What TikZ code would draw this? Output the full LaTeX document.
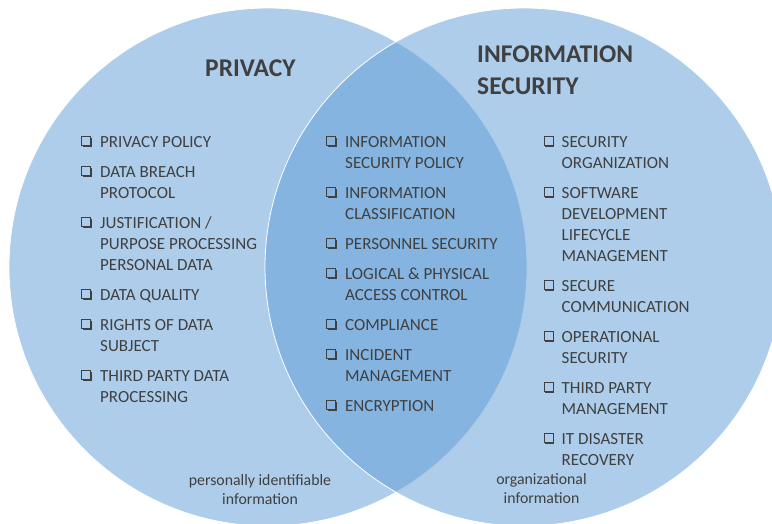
\documentclass[tikz,border=0pt]{standalone}
\usepackage{fontspec}
\setmainfont{Carlito}
\usetikzlibrary{shadows}
\definecolor{vennblue}{HTML}{5B9BD5}
\definecolor{inkgrey}{HTML}{404040}
\definecolor{paleblue}{RGB}{173,205,234}
\definecolor{lensblue}{RGB}{132,180,223}

% stacked lines whose baseline is that of the first line
\newcommand\lstack[1]{\vtop{\let\\\cr\halign{##\hfil\cr#1\crcr}}}
\newcommand\cstack[1]{\vtop{\let\\\cr\halign{\hfil##\hfil\cr#1\crcr}}}

% one checklist entry: box node, then the text node on the same baseline
\newcommand\vitem[6]{%
  \node[cbox, fill=#5] (#1box) at (#2, #4-6) {};
  \node[item] (#1) at (#3, #4) {\lstack{#6}};
}

\begin{document}
\begin{tikzpicture}[x=1pt,y=-1pt,
  setcircle/.style={fill=vennblue, fill opacity=0.5, draw=white, line width=0.8pt},
  heading/.style={font=\fontsize{25.5}{32}\selectfont\bfseries, text=inkgrey, inner sep=0, anchor=base west},
  item/.style={font=\fontsize{17}{21}\selectfont, text=inkgrey, inner sep=0, anchor=base west},
  cbox/.style={draw=inkgrey, line width=0.8pt, minimum size=9pt, inner sep=0,
    drop shadow={shadow xshift=1.3pt, shadow yshift=-1.3pt, fill=inkgrey, opacity=1}},
  note/.style={font=\fontsize{15.8}{19}\selectfont, text=inkgrey, inner sep=0, anchor=base}
]
\useasboundingbox (0,0) rectangle (772,523);

% the two sets
\path[setcircle] (268,267) circle[radius=259];
\path[setcircle] (524,267) circle[radius=259];

% headings
\node[heading] (privacy) at (205,76) {PRIVACY};
\node[heading] (infosec) at (477,62) {\lstack{INFORMATION\\SECURITY}};

% privacy only
\vitem{p1}{86}{100}{147}{paleblue}{PRIVACY POLICY}
\vitem{p2}{86}{100}{177}{paleblue}{DATA BREACH\\PROTOCOL}
\vitem{p3}{86}{100}{228}{paleblue}{JUSTIFICATION /\\PURPOSE PROCESSING\\PERSONAL DATA}
\vitem{p4}{86}{100}{300}{paleblue}{DATA QUALITY}
\vitem{p5}{86}{100}{330}{paleblue}{RIGHTS OF DATA\\SUBJECT}
\vitem{p6}{86}{100}{381}{paleblue}{THIRD PARTY DATA\\PROCESSING}

% shared
\vitem{m1}{331}{345}{147}{lensblue}{INFORMATION\\SECURITY POLICY}
\vitem{m2}{331}{345}{198}{lensblue}{INFORMATION\\CLASSIFICATION}
\vitem{m3}{331}{345}{249}{lensblue}{PERSONNEL SECURITY}
\vitem{m4}{331}{345}{279}{lensblue}{LOGICAL \& PHYSICAL\\ACCESS CONTROL}
\vitem{m5}{331}{345}{330}{lensblue}{COMPLIANCE}
\vitem{m6}{331}{345}{360}{lensblue}{INCIDENT\\MANAGEMENT}
\vitem{m7}{331}{345}{411}{lensblue}{ENCRYPTION}

% information security only
\vitem{s1}{548.5}{561.5}{147}{paleblue}{SECURITY\\ORGANIZATION}
\vitem{s2}{548.5}{561.5}{198}{paleblue}{SOFTWARE\\DEVELOPMENT\\LIFECYCLE\\MANAGEMENT}
\vitem{s3}{548.5}{561.5}{291}{paleblue}{SECURE\\COMMUNICATION}
\vitem{s4}{548.5}{561.5}{342}{paleblue}{OPERATIONAL\\SECURITY}
\vitem{s5}{548.5}{561.5}{393}{paleblue}{THIRD PARTY\\MANAGEMENT}
\vitem{s6}{548.5}{561.5}{444}{paleblue}{IT DISASTER\\RECOVERY}

% scope notes
\node[note] (pii) at (260,485) {\cstack{personally identifiable\\information}};
\node[note] (org) at (541.5,484) {\cstack{organizational\\information}};
\end{tikzpicture}
\end{document}
